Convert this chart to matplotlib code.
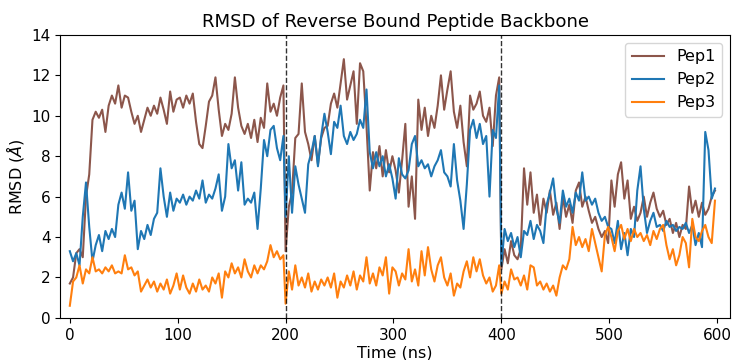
import numpy as np
import matplotlib
matplotlib.use("Agg")
import matplotlib.pyplot as plt

# time axis: three 200 ns runs joined together, sampled every 3 ns
time = np.concatenate([np.arange(0, 200, 3), np.arange(200, 400, 3), np.arange(400, 600, 3)])

pep1 = [
    # 0 - 198
    1.7, 2.0, 3.2, 3.4, 3.0, 6.0, 7.1, 9.8, 10.2, 9.9, 10.3, 9.2, 10.5, 11.0, 10.6, 11.5, 10.4,
    11.0, 10.9, 10.2, 9.6, 10.0, 9.2, 9.8, 10.4, 10.0, 10.5, 10.1, 10.9, 10.3, 9.6, 11.2, 10.2, 10.8,
    10.9, 10.4, 11.0, 10.6, 11.1, 9.7, 8.6, 8.4, 9.5, 10.7, 11.0, 11.9, 10.3, 9.0, 9.6, 9.3, 10.1,
    11.9, 10.4, 9.5, 9.1, 9.6, 8.9, 9.8, 8.7, 9.9, 9.4, 11.6, 10.2, 10.6, 10.0, 10.9, 11.5,
    # 200 - 398
    3.3, 5.5, 6.2, 8.9, 9.1, 11.6, 9.2, 8.6, 7.8, 9.0, 7.6, 8.9, 9.4, 9.5, 10.6, 11.1, 10.4,
    11.6, 12.8, 10.8, 11.5, 12.2, 9.6, 12.6, 12.2, 9.5, 6.3, 8.2, 7.4, 8.5, 7.0, 8.3, 7.2, 8.0,
    7.3, 6.2, 7.8, 9.6, 5.5, 7.0, 4.9, 10.8, 9.3, 10.4, 9.0, 10.0, 9.4, 10.5, 12.0, 10.3, 11.3,
    12.2, 10.2, 9.4, 10.5, 8.7, 7.5, 11.0, 10.3, 10.6, 11.2, 10.0, 9.7, 10.4, 8.5, 11.0, 11.9,
    # 400 - 598
    2.4, 3.4, 2.7, 3.8, 3.1, 2.9, 3.4, 7.4, 5.6, 7.2, 5.2, 6.1, 4.6, 5.9, 5.2, 6.3, 5.1,
    5.7, 4.4, 6.0, 5.0, 5.6, 4.7, 6.3, 6.7, 5.5, 6.0, 5.3, 4.7, 5.0, 4.4, 4.0, 4.3, 3.7,
    6.8, 5.5, 7.1, 7.7, 5.9, 6.8, 4.9, 5.5, 4.8, 5.2, 6.0, 5.0, 5.7, 6.2, 5.4, 5.0, 5.3,
    4.6, 4.9, 4.2, 4.7, 4.0, 4.6, 4.4, 6.5, 5.2, 5.8, 5.0, 5.7, 5.1, 5.4, 6.0, 6.3,
]

pep2 = [
    # 0 - 198
    3.3, 2.8, 3.2, 2.6, 5.0, 6.7, 4.5, 2.8, 3.6, 4.1, 3.3, 4.3, 3.9, 4.4, 4.0, 5.6, 6.2,
    5.4, 7.2, 5.3, 5.8, 3.4, 4.3, 3.9, 4.6, 4.1, 4.9, 5.2, 7.4, 6.0, 5.0, 6.2, 5.3, 5.9,
    5.7, 6.1, 5.6, 6.0, 5.8, 6.3, 5.9, 6.8, 5.7, 6.1, 5.9, 6.4, 7.1, 5.3, 6.0, 8.6, 7.4,
    7.8, 6.3, 7.7, 5.6, 5.9, 5.7, 6.2, 4.4, 6.4, 8.8, 8.0, 9.3, 9.5, 8.4, 7.8, 9.0,
    # 200 - 398
    5.0, 8.0, 5.2, 7.5, 6.6, 5.9, 5.2, 7.6, 8.2, 9.0, 7.5, 9.0, 10.1, 9.2, 8.1, 9.7, 9.4,
    10.5, 9.0, 8.6, 9.2, 8.8, 9.1, 9.8, 9.4, 11.3, 8.2, 7.4, 8.2, 7.5, 8.0, 7.0, 7.6, 6.9,
    5.9, 7.9, 7.1, 6.9, 7.3, 8.6, 9.0, 7.5, 7.8, 7.4, 7.6, 7.0, 7.5, 7.8, 8.3, 7.2, 7.0,
    6.5, 8.6, 6.8, 5.8, 4.4, 6.6, 9.3, 9.8, 8.9, 9.6, 8.6, 9.0, 6.0, 9.3, 8.9, 11.5,
    # 400 - 598
    2.6, 4.4, 3.8, 4.2, 3.5, 4.0, 3.0, 4.3, 4.1, 4.8, 3.9, 4.6, 4.3, 3.7, 5.6, 6.2, 6.9,
    5.4, 4.7, 6.3, 5.5, 5.9, 5.2, 6.2, 5.8, 7.2, 5.8, 6.0, 5.6, 5.9, 5.2, 4.8, 5.0, 4.5,
    4.4, 3.7, 4.8, 3.4, 4.2, 3.1, 4.4, 4.0, 6.3, 7.5, 5.4, 4.2, 4.8, 5.2, 4.5, 4.6, 4.3,
    4.8, 4.5, 4.6, 4.3, 4.5, 4.4, 4.7, 4.2, 4.6, 3.6, 4.2, 3.5, 9.2, 8.3, 5.9, 6.4,
]

pep3 = [
    # 0 - 198
    0.6, 1.8, 2.0, 2.6, 1.7, 2.4, 2.2, 3.0, 2.3, 2.4, 2.2, 2.5, 2.3, 2.6, 2.2, 2.3, 2.2,
    3.1, 2.4, 2.5, 2.1, 2.3, 1.3, 1.6, 1.9, 1.5, 1.8, 1.3, 1.7, 1.4, 1.9, 1.2, 1.6, 2.2,
    1.4, 2.1, 1.5, 1.2, 1.7, 1.3, 1.9, 1.4, 1.6, 1.3, 2.0, 1.7, 2.2, 1.0, 2.3, 2.0, 2.7,
    2.2, 2.5, 2.0, 2.9, 2.3, 2.0, 2.6, 2.2, 2.6, 2.4, 2.8, 3.6, 3.0, 3.3, 2.9, 3.1,
    # 200 - 398
    0.7, 2.3, 1.4, 2.6, 1.6, 2.0, 1.5, 2.2, 1.3, 1.8, 1.4, 1.9, 1.6, 2.0, 1.5, 2.2, 1.0,
    1.8, 1.5, 2.1, 1.6, 2.3, 1.4, 2.1, 1.8, 3.0, 1.7, 2.2, 1.6, 2.5, 2.1, 3.0, 1.2, 2.5,
    2.3, 1.6, 2.2, 1.9, 3.4, 1.8, 2.4, 1.6, 3.3, 2.1, 3.5, 2.4, 1.8, 2.6, 3.0, 2.0, 1.6,
    2.2, 1.1, 1.7, 1.5, 2.3, 2.8, 2.0, 3.0, 2.3, 2.9, 2.1, 1.7, 2.0, 1.3, 1.6, 2.6,
    # 400 - 598
    1.2, 1.8, 1.4, 2.4, 1.9, 2.0, 1.6, 2.1, 1.4, 2.6, 2.5, 1.6, 1.8, 1.4, 1.7, 1.3, 1.6,
    1.1, 2.0, 2.6, 2.4, 2.9, 4.5, 3.6, 4.0, 3.5, 3.9, 3.3, 4.4, 3.7, 3.0, 2.3, 4.1, 4.5,
    4.0, 3.3, 4.3, 4.6, 3.9, 4.4, 3.8, 4.4, 4.0, 4.2, 3.8, 4.1, 3.6, 4.3, 3.9, 4.4, 4.6,
    3.6, 2.9, 3.4, 2.6, 3.1, 4.0, 3.7, 2.5, 4.9, 4.0, 3.8, 4.3, 4.6, 4.0, 3.7, 5.8,
]

labels = ["Pep1", "Pep2", "Pep3"]
colors = ["tab:brown", "tab:blue", "tab:orange"]
run_edges = [200, 400]

fig = plt.figure(figsize=(7.33, 3.6), dpi=100)
ax = fig.add_axes([0.082, 0.117, 0.914, 0.786])

for series, lab, col in zip([pep1, pep2, pep3], labels, colors):
    ax.plot(time, series, color=col, label=lab, linewidth=1.5)

for edge in run_edges:
    ax.axvline(edge, color="black", linestyle="--", linewidth=1, alpha=0.8)

ax.set_xlim(-9, 612)
ax.set_ylim(0, 14)
ax.set_xticks([0, 100, 200, 300, 400, 500, 600])
ax.set_yticks([0, 2, 4, 6, 8, 10, 12, 14])
ax.tick_params(labelsize=11)
ax.set_xlabel("Time (ns)", fontsize=11.5, labelpad=2)
ax.set_ylabel(r"RMSD ($\AA$)", fontsize=11.5)
ax.set_title("RMSD of Reverse Bound Peptide Backbone", fontsize=13.1)
ax.legend(loc="upper right", fontsize=11.5)

fig.savefig("out.png", dpi=100)
